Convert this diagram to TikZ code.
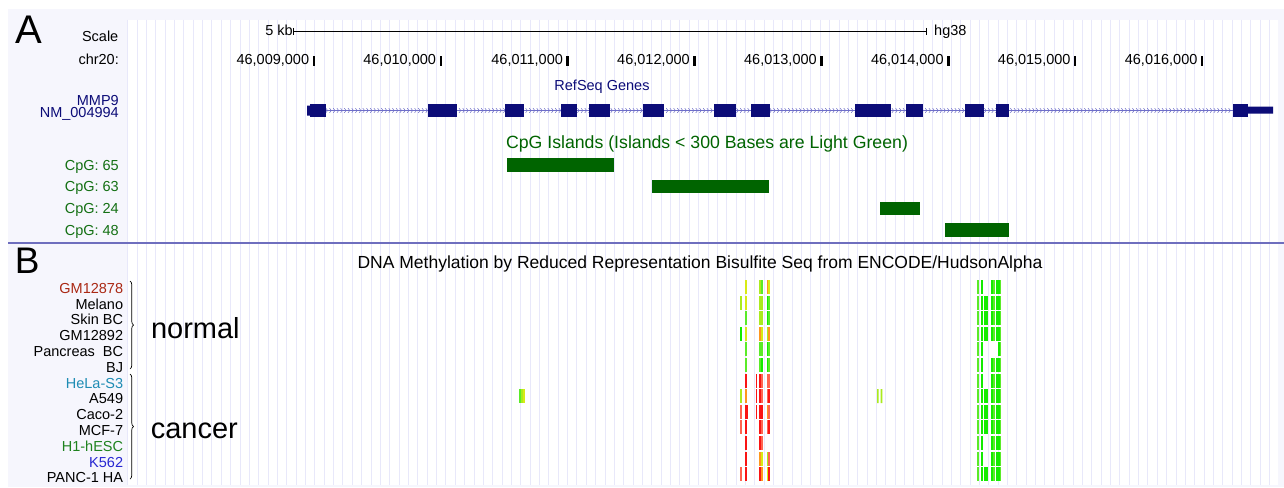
\documentclass[tikz,border=0pt]{standalone}
\usepackage{fontspec}
\setmainfont{Liberation Sans}
\usetikzlibrary{decorations.pathreplacing}
\definecolor{navy}{RGB}{12,12,120}
\definecolor{intron}{RGB}{110,110,200}
\definecolor{cpg}{RGB}{0,100,0}
\definecolor{cpglab}{RGB}{20,112,20}
\definecolor{gridc}{RGB}{232,232,250}
\definecolor{panelbg}{RGB}{246,246,253}
\definecolor{sepline}{RGB}{110,110,190}
\definecolor{labred}{RGB}{170,40,20}
\definecolor{labcyan}{RGB}{30,140,180}
\definecolor{labgreen}{RGB}{30,130,30}
\definecolor{labblue}{RGB}{40,40,210}
% methylation shades
\definecolor{mG}{RGB}{20,235,0}
\definecolor{mL}{RGB}{90,235,40}
\definecolor{mY}{RGB}{170,235,30}
\definecolor{mW}{RGB}{215,235,20}
\definecolor{mO}{RGB}{255,150,30}
\definecolor{mS}{RGB}{255,100,80}
\definecolor{mR}{RGB}{250,20,20}
% bar columns (left edge / width)
\newcommand*{\mxa}{740.2}\newcommand*{\mwa}{1.7}
\newcommand*{\mxb}{745}\newcommand*{\mwb}{2.4}
\newcommand*{\mxB}{745}\newcommand*{\mwB}{3.4}
\newcommand*{\mxc}{755.5}\newcommand*{\mwc}{1.7}
\newcommand*{\mxd}{759.3}\newcommand*{\mwd}{1.9}
\newcommand*{\mxD}{761.4}\newcommand*{\mwD}{1.9}
\newcommand*{\mxe}{766.5}\newcommand*{\mwe}{1.8}
\newcommand*{\mxE}{768.4}\newcommand*{\mwE}{1.8}
\newcommand*{\mxf}{977}\newcommand*{\mwf}{2}
\newcommand*{\mxg}{981.3}\newcommand*{\mwg}{2}
\newcommand*{\mxh}{983.8}\newcommand*{\mwh}{2}
\newcommand*{\mxH}{986}\newcommand*{\mwH}{2}
\newcommand*{\mxi}{991}\newcommand*{\mwi}{2}
\newcommand*{\mxj}{993.4}\newcommand*{\mwj}{2}
\newcommand*{\mxk}{995.8}\newcommand*{\mwk}{2}
\newcommand*{\mxl}{998.1}\newcommand*{\mwl}{1.6}
\newcommand*{\mxL}{999.8}\newcommand*{\mwL}{1.6}
\tikzset{
  lab/.style={font=\fontsize{14.5}{15}\selectfont, inner sep=0pt, anchor=base east},
  big/.style={font=\fontsize{#1}{#1}\selectfont, inner sep=0pt, anchor=base west},
  mbar/.style={fill=#1, draw=none}}

\begin{document}
\begin{tikzpicture}[x=1pt, y=-1pt]
\useasboundingbox (0,0) rectangle (1284,487);
\fill[panelbg] (8,9) rectangle (1284,487);
\fill[white] (127,20) rectangle (1278,485);
\foreach \k in {0,...,122} \draw[gridc, line width=1pt] ({127.7+9.36*\k},20) -- ++(0,465); % grid
% panel A
\node[big=40] (pa) at (15,43.3) {A};
\node[lab] (scale) at (118.5,41.7) {Scale};
\node[lab] (kb) at (293,36) {5 kb};
\node[lab, anchor=base west] (hg) at (934,36) {hg38};
\coordinate (sbl) at (293.5,31.5);
\coordinate (sbr) at (926.5,31.5);
\draw[line width=1.1pt] (sbl) -- (sbr);
\draw[line width=1pt] (sbl) ++(0,-3.5) -- ++(0,7) (sbr) ++(0,-3.5) -- ++(0,7);
\node[lab] (chr) at (119,65) {chr20:};
\foreach \i/\k in {0/09,1/10,2/11,3/12,4/13,5/14,6/15,7/16} {
  \node[lab] (pos\k) at ({309.3+126.9*\i},65) {46,0\k,000};
  \fill ({312.6+126.9*\i},56) rectangle ++(2.4,10);
}
\node[lab, anchor=base, text=navy] (refseq) at (602,90) {RefSeq Genes};
\node[lab, text=navy] (mmp) at (119,105.3) {MMP9};
\node[lab, text=navy] (nm) at (119,117.3) {NM\_004994};
\draw[intron, line width=0.8pt] (307,110.5) -- (1273,110.5);
\foreach \x in {312,315.7,...,1232} \draw[intron, line width=0.5pt] (\x-1,108.2) -- (\x+0.8,110.5) -- (\x-1,112.8);
\foreach \a/\b in {310/326,428/457,505/524,561/577,589/610,643/664,714/736,751/770,855/891,906/923,965/984,996/1009,1233/1248}
  \fill[navy] (\a,104) rectangle (\b,117); % exons
\fill[navy] (307,105.5) rectangle (310,115.5) (1248,106.5) rectangle (1273,113.5); % UTRs
\node[font=\fontsize{17.7}{19}\selectfont, text=cpg, inner sep=0pt, anchor=base] (cpgt) at (707,148.6) {CpG Islands (Islands < 300 Bases are Light Green)};
\foreach \n/\a/\b [count=\i from 0] in {65/507/614,63/652/769,24/880/920,48/945/1009} {
  \node[lab, text=cpglab] (cpg\n) at (119,{170.1+21.7*\i}) {CpG: \n};
  \fill[cpg] (\a,{158.3+21.7*\i}) rectangle (\b,{171.7+21.7*\i});
}
\draw[sepline, line width=2pt] (8,242.7) -- (1284,242.7);
% panel B
\node[big=37] (pb) at (14.6,273.3) {B};
\node[font=\fontsize{17.5}{18}\selectfont, inner sep=0pt, anchor=base] (dnat) at (700,268) {DNA Methylation by Reduced Representation Bisulfite Seq from ENCODE/HudsonAlpha};
\foreach \n/\t/\c [count=\i from 0] in {gma/GM12878/labred,mel/Melano/black,skin/Skin BC/black,gmb/GM12892/black,panc/Pancreas~\ BC/black,bj/BJ/black,hela/HeLa-S3/labcyan,asf/A549/black,caco/Caco-2/black,mcf/MCF-7/black,hesc/H1-hESC/labgreen,kfs/K562/labblue,pha/PANC-1 HA/black}
  \node[lab, text=\c] (\n) at (123.3,{293.3+15.8*\i}) {\t};
\coordinate (nt) at (130,281); \coordinate (nb) at (130,369);
\coordinate (ct) at (130,374); \coordinate (cb) at (130,479);
\draw[line width=0.7pt, decorate, decoration={brace, amplitude=3.5pt}] (nt) -- (nb);
\draw[line width=0.7pt, decorate, decoration={brace, amplitude=3.5pt}] (ct) -- (cb);
\node[big=29] (normal) at (150.8,338.3) {normal};
\node[big=29] (cancer) at (150.6,438.3) {cancer};
% methylation bars
\foreach \r/\k/\c in {1/b/mW,1/d/mY,1/D/mL,1/e/mO,1/E/mW,
  2/a/mY,2/b/mW,2/d/mY,2/D/mY,2/e/mG,2/E/mL,
  3/b/mL,3/d/mY,3/D/mY,3/e/mG,3/E/mL,
  4/a/mG,4/b/mW,4/d/mO,4/D/mW,4/e/mY,4/E/mO,
  5/b/mL,5/d/mL,5/D/mL,5/e/mG,5/E/mL,
  6/b/mL,6/d/mL,6/D/mG,6/e/mG,6/E/mL,
  7/b/mR,7/c/mR,7/d/mR,7/D/mS,7/e/mS,7/E/mS,
  8/a/mY,8/b/mO,8/c/mR,8/d/mR,8/D/mS,8/e/mS,8/E/mR,
  9/a/mS,9/B/mR,9/c/mR,9/d/mR,9/D/mR,9/e/mO,9/E/mS,
  10/a/mS,10/b/mR,10/d/mR,10/D/mS,10/e/mS,10/E/mR,
  11/b/mR,11/d/mR,11/D/mS,
  12/b/mR,12/d/mO,12/D/mW,12/e/mY,12/E/mS,
  13/a/mS,13/b/mR,13/d/mR,13/D/mO,13/e/mW,13/E/mR}
  \fill[mbar=\c] (\csname mx\k\endcsname,{280+15.6*(\r-1)}) rectangle ++(\csname mw\k\endcsname,14);
\foreach \r in {1,...,13} \foreach \k/\c in {f/mL,g/mG,l/mG,L/mL}
  \fill[mbar=\c] (\csname mx\k\endcsname,{280+15.6*(\r-1)}) rectangle ++(\csname mw\k\endcsname,14);
\foreach \r in {1,2,3,4,6,7,8,9,10,11,12,13} \foreach \k/\c in {i/mG,j/mL,k/mG}
  \fill[mbar=\c] (\csname mx\k\endcsname,{280+15.6*(\r-1)}) rectangle ++(\csname mw\k\endcsname,14);
\foreach \r in {2,3,4,8,9,10,13} \foreach \k/\c in {h/mG,H/mG}
  \fill[mbar=\c] (\csname mx\k\endcsname,{280+15.6*(\r-1)}) rectangle ++(\csname mw\k\endcsname,14);
\fill[mL] (519,389.2) rectangle ++(2,14);
\fill[mY] (521.1,389.2) rectangle ++(2,14);
\fill[mW] (523.2,389.2) rectangle ++(1.8,14);
\fill[mY] (877,389.2) rectangle ++(1.6,14) (880.7,389.2) rectangle ++(1.6,14);
\end{tikzpicture}
\end{document}
